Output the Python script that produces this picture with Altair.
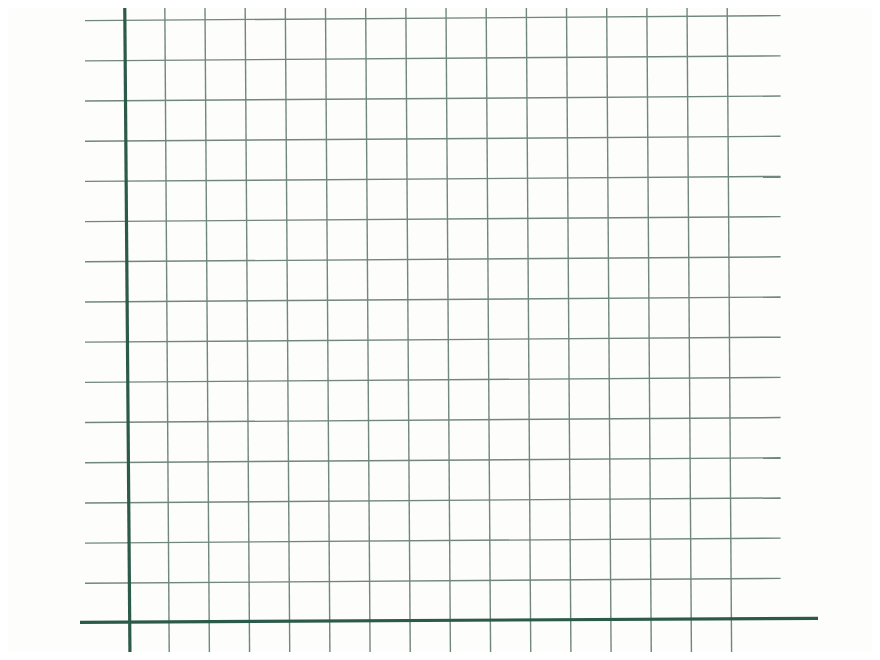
import altair as alt
import pandas as pd

# Grid paper, measured in grid-cell units (1 unit = one square).
# The sheet is photographed with a slight rotation, so each line has
# a start and an end value.
vert_ids = list(range(1, 16))          # vertical grid lines 1..15
vert_x_top = [k + 0.0 for k in vert_ids]
vert_x_bot = [k + 0.112 for k in vert_ids]
vert_y_top = 15.51
vert_y_bot = -0.91

horiz_ids = list(range(1, 16))         # horizontal grid lines 1..15
horiz_x_left = -0.986
horiz_x_right = 16.33
horiz_y_left = [j + 0.0 for j in horiz_ids]
horiz_y_right = [j + 0.124 for j in horiz_ids]

# main axes (thick lines)
axis_x1 = [-1.110, 0.0025]
axis_x2 = [17.261, 0.134]
axis_y1 = [0.030, 15.514]
axis_y2 = [0.129, -0.858]
axis_name = ["x-axis", "y-axis"]

rows = []
for k, xt, xb in zip(vert_ids, vert_x_top, vert_x_bot):
    rows.append({"x": xt, "x2": xb, "y": vert_y_top, "y2": vert_y_bot, "kind": "grid"})
for j, yl, yr in zip(horiz_ids, horiz_y_left, horiz_y_right):
    rows.append({"x": horiz_x_left, "x2": horiz_x_right, "y": yl, "y2": yr, "kind": "grid"})
grid_df = pd.DataFrame(rows)

axes_df = pd.DataFrame({"x": axis_x1, "x2": axis_x2, "y": axis_y1, "y2": axis_y2, "name": axis_name})

xs = alt.Scale(domain=[0, 15], range=[116.6, 719.15], nice=False, zero=False)
ys = alt.Scale(domain=[0, 15], range=[615.5, 12.65], nice=False, zero=False)

grid = alt.Chart(grid_df).mark_rule(color="#71867e", strokeWidth=1.4).encode(
    x=alt.X("x:Q", scale=xs, axis=None),
    x2="x2:Q",
    y=alt.Y("y:Q", scale=ys, axis=None),
    y2="y2:Q",
)

axes = alt.Chart(axes_df).mark_rule(color="#2c5a4a", strokeWidth=3.2).encode(
    x=alt.X("x:Q", scale=xs, axis=None),
    x2="x2:Q",
    y=alt.Y("y:Q", scale=ys, axis=None),
    y2="y2:Q",
)

chart = alt.layer(grid, axes).properties(
    width=864,
    height=644,
    autosize=alt.AutoSizeParams(type="none"),
    padding=0,
    background="#fdfdfb",
).configure_view(stroke=None)

chart.save("out.html", embed_options={"renderer": "svg", "actions": False})
